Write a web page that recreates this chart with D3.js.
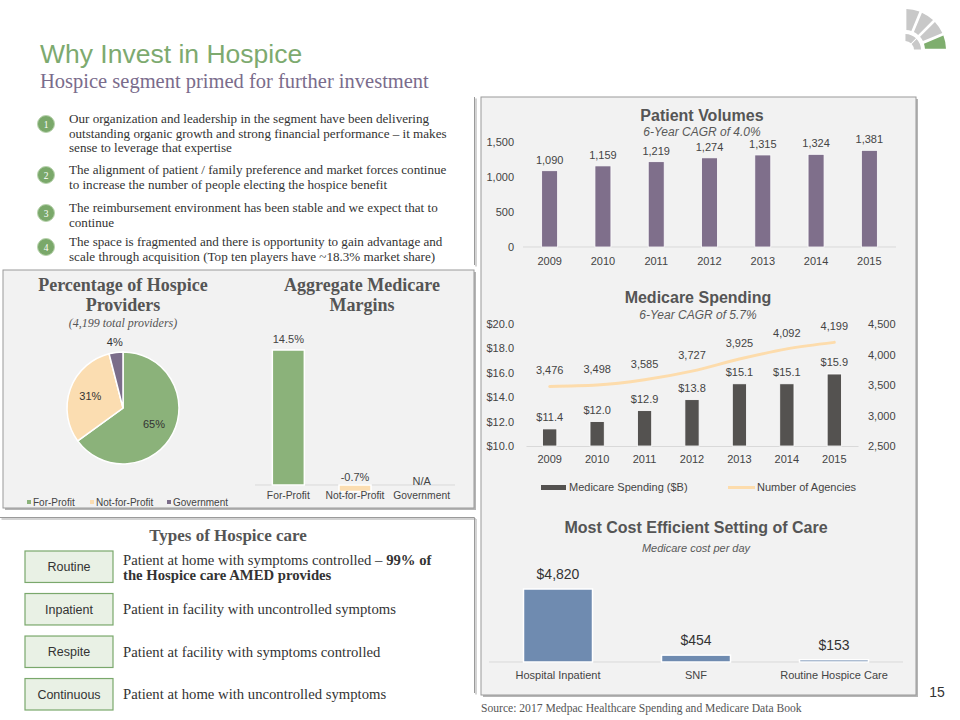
<!DOCTYPE html>
<html>
<head>
<meta charset="utf-8">
<script src="https://cdn.jsdelivr.net/npm/d3@7"></script>
<style>
  body { margin: 0; background: #fff; }
  svg { display: block; }
  .sans { font-family: Arial, "Liberation Sans", sans-serif; }
  .serif { font-family: Georgia, "Liberation Serif", serif; }
</style>
</head>
<body>
<div id="chart"></div>
<script>
// ---- data ----
const years = ["2009", "2010", "2011", "2012", "2013", "2014", "2015"];
const patientVolumes = [1090, 1159, 1219, 1274, 1315, 1324, 1381];
const volumeTicks = [0, 500, 1000, 1500];

const spending = [11.4, 12.0, 12.9, 13.8, 15.1, 15.1, 15.9];
const agencies = [3476, 3498, 3585, 3727, 3925, 4092, 4199];
const spendingTicks = [10, 12, 14, 16, 18, 20];
const agencyTicks = [2500, 3000, 3500, 4000, 4500];

const providerTypes = ["For-Profit", "Not-for-Profit", "Government"];
const providerShares = [65, 31, 4];
const margins = [14.5, -0.7, null];

const costSettings = ["Hospital Inpatient", "SNF", "Routine Hospice Care"];
const costPerDay = [4820, 454, 153];

const bullets = [
  ["Our organization and leadership in the segment have been delivering",
   "outstanding organic growth and strong financial performance \u2013 it makes",
   "sense to leverage that expertise"],
  ["The alignment of patient / family preference and market forces continue",
   "to increase the number of people electing the hospice benefit"],
  ["The reimbursement environment has been stable and we expect that to",
   "continue"],
  ["The space is fragmented and there is opportunity to gain advantage and",
   "scale through acquisition (Top ten players have ~18.3% market share)"]
];
const careTypes = ["Routine", "Inpatient", "Respite", "Continuous"];
const careText = [
  "Patient at home with symptoms controlled \u2013 ",
  "Patient in facility with uncontrolled symptoms",
  "Patient at facility with symptoms controlled",
  "Patient at home with uncontrolled symptoms"
];

const width = 960, height = 720;
const green = "#8bb27a", peach = "#fbddb1", purple = "#7b6d8a";

const svg = d3.select("#chart").append("svg")
  .attr("width", width).attr("height", height);

/* panels */
function panel(x, y, w, h, fill) {
  svg.append("rect").attr("x", x + 2).attr("y", y + 2).attr("width", w).attr("height", h)
    .attr("fill", "#b5b5b5");
  svg.append("rect").attr("x", x).attr("y", y).attr("width", w).attr("height", h)
    .attr("fill", fill).attr("stroke", "#9a9a9a").attr("stroke-width", 1);
}
function edge(x1, y1, x2, y2) {
  svg.append("line").attr("x1", x1 + 1.5).attr("y1", y1 + 1.5).attr("x2", x2 + 1.5).attr("y2", y2 + 1.5)
    .attr("stroke", "#c4c4c4").attr("stroke-width", 1.5);
  svg.append("line").attr("x1", x1).attr("y1", y1).attr("x2", x2).attr("y2", y2)
    .attr("stroke", "#9a9a9a").attr("stroke-width", 1);
}
panel(481, 97, 435, 598, "#f2f2f2");
edge(474.5, 97, 474.5, 265);
panel(3, 270, 471, 238, "#f2f2f2");
edge(0, 517.5, 474.5, 517.5);
edge(474.5, 517.5, 474.5, 693);

/* header */
svg.append("text").attr("class", "sans").attr("x", 40).attr("y", 63)
  .attr("font-size", 26.5).attr("fill", "#7daa6f").text("Why Invest in Hospice");
svg.append("text").attr("class", "serif").attr("x", 40).attr("y", 88)
  .attr("font-size", 20.5).attr("fill", "#7a6c8c").text("Hospice segment primed for further investment");

// logo
const logo = svg.append("g").attr("transform", "translate(905,50)");
const outer = d3.arc().innerRadius(20).outerRadius(41).padAngle(0.06);
[0, 1, 2, 3].forEach(i => {
  logo.append("path")
    .attr("d", outer({startAngle: i * Math.PI / 8, endAngle: (i + 1) * Math.PI / 8}))
    .attr("fill", i === 3 ? "#7fae6e" : "#c8c8c8");
});
const inner = d3.arc().innerRadius(9).outerRadius(16).padAngle(0.05);
[0, 1].forEach(i => {
  logo.append("path")
    .attr("d", inner({startAngle: i * Math.PI / 4, endAngle: (i + 1) * Math.PI / 4}))
    .attr("fill", "#c8c8c8");
});

/* bullets */
const bulletY = [119, 170, 208, 242];
bullets.forEach((lines, i) => {
  const cy = bulletY[i] + 5;
  svg.append("circle").attr("cx", 46).attr("cy", cy).attr("r", 8.5)
    .attr("fill", "#7aa86a").attr("stroke", "#b9d3ae").attr("stroke-width", 1);
  svg.append("text").attr("class", "serif").attr("x", 46).attr("y", cy + 3.5)
    .attr("text-anchor", "middle").attr("font-size", 9.5).attr("fill", "#fff").text(i + 1);
  lines.forEach((t, j) => {
    svg.append("text").attr("class", "serif").attr("x", 69).attr("y", bulletY[i] + 4 + j * 14.5)
      .attr("font-size", 13.1).attr("fill", "#333").text(t);
  });
});

/* pie */
function serifTitle(x, y, t, size) {
  svg.append("text").attr("class", "serif").attr("x", x).attr("y", y)
    .attr("text-anchor", "middle").attr("font-size", size).attr("font-weight", "bold")
    .attr("fill", "#555").text(t);
}
serifTitle(123, 291, "Percentage of Hospice", 18);
serifTitle(123, 311, "Providers", 18);
svg.append("text").attr("class", "serif").attr("x", 123).attr("y", 327)
  .attr("text-anchor", "middle").attr("font-size", 12).attr("font-style", "italic")
  .attr("fill", "#555").text("(4,199 total providers)");

const pieColor = d3.scaleOrdinal().domain(providerTypes).range([green, peach, purple]);
const pie = d3.pie().sort(null).value(d => d.v);
const pieData = pie(providerTypes.map((k, i) => ({k, v: providerShares[i]})));
const r = 56;
const arc = d3.arc().innerRadius(0).outerRadius(r);
const pg = svg.append("g").attr("transform", "translate(123,408)");
pg.selectAll("path").data(pieData).enter().append("path")
  .attr("d", arc).attr("fill", d => pieColor(d.data.k))
  .attr("stroke", "#fff").attr("stroke-width", 1.5);
const labelArc = d3.arc().innerRadius(r * 0.62).outerRadius(r * 0.62);
const outerLabel = d3.arc().innerRadius(r + 10).outerRadius(r + 10);
pg.selectAll("text").data(pieData).enter().append("text")
  .attr("class", "sans")
  .attr("transform", d => "translate(" + (d.data.v < 10 ? outerLabel : labelArc).centroid(d) + ")")
  .attr("text-anchor", "middle").attr("dy", "0.35em")
  .attr("font-size", 11).attr("fill", "#333").text(d => d.data.v + "%");

const legendX = [27, 90, 167];
providerTypes.forEach((k, i) => {
  svg.append("rect").attr("x", legendX[i]).attr("y", 500).attr("width", 4).attr("height", 4)
    .attr("fill", pieColor(k));
  svg.append("text").attr("class", "sans").attr("x", legendX[i] + 6).attr("y", 506)
    .attr("font-size", 10).attr("fill", "#444").text(k);
});

/* aggregate margins */
serifTitle(362, 291, "Aggregate Medicare", 18);
serifTitle(362, 311, "Margins", 18);

const mx = d3.scaleBand().domain(providerTypes).range([255, 455]).paddingInner(0.52).paddingOuter(0.26);
const my = d3.scaleLinear().domain([0, 14.5]).range([485, 350]);
svg.append("line").attr("x1", 255).attr("x2", 455).attr("y1", my(0)).attr("y2", my(0))
  .attr("stroke", "#d9d9d9");
providerTypes.forEach((k, i) => {
  const v = margins[i];
  const cx = mx(k) + mx.bandwidth() / 2;
  if (v !== null) {
    svg.append("rect").attr("x", mx(k)).attr("width", mx.bandwidth())
      .attr("y", my(Math.max(0, v))).attr("height", Math.abs(my(v) - my(0)))
      .attr("fill", pieColor(k)).attr("stroke", "#fff").attr("stroke-width", 1.5);
  }
  const ly = v === null ? 485 : (v >= 0 ? my(v) - 7 : my(0) - 4);
  svg.append("text").attr("class", "sans").attr("x", cx).attr("y", ly)
    .attr("text-anchor", "middle").attr("font-size", 11).attr("fill", "#444")
    .text(v === null ? "N/A" : v.toFixed(1) + "%");
  svg.append("text").attr("class", "sans").attr("x", cx).attr("y", 499)
    .attr("text-anchor", "middle").attr("font-size", 10.3).attr("fill", "#444").text(k);
});

/* types of hospice care */
serifTitle(228, 541, "Types of Hospice care", 17);
const careY = d3.scaleBand().domain(careTypes).range([551, 710]).paddingInner(0.26);
careTypes.forEach((k, i) => {
  const y0 = careY(k);
  svg.append("rect").attr("x", 25).attr("y", y0).attr("width", 88).attr("height", careY.bandwidth())
    .attr("fill", "#e9f1e5").attr("stroke", "#7aa86c").attr("stroke-width", 1.2);
  svg.append("text").attr("class", "sans").attr("x", 69).attr("y", y0 + careY.bandwidth() / 2 + 4.5)
    .attr("text-anchor", "middle").attr("font-size", 12.5).attr("fill", "#333").text(k);
  const t = svg.append("text").attr("class", "serif").attr("x", 123)
    .attr("font-size", 14.7).attr("fill", "#333");
  if (i === 0) {
    t.attr("y", y0 + 14);
    t.append("tspan").text(careText[i]);
    t.append("tspan").attr("font-weight", "bold").text("99% of");
    svg.append("text").attr("class", "serif").attr("x", 123).attr("y", y0 + 29)
      .attr("font-size", 14.7).attr("font-weight", "bold").attr("fill", "#333")
      .text("the Hospice care AMED provides");
  } else {
    t.attr("y", y0 + careY.bandwidth() / 2 + 5).text(careText[i]);
  }
});

/* patient volumes */
function title(x, y, main, sub, subY, subSize) {
  svg.append("text").attr("class", "sans").attr("x", x).attr("y", y)
    .attr("text-anchor", "middle").attr("font-size", 16).attr("font-weight", "bold")
    .attr("fill", "#555").text(main);
  svg.append("text").attr("class", "sans").attr("x", x).attr("y", subY)
    .attr("text-anchor", "middle").attr("font-size", subSize).attr("font-style", "italic")
    .attr("fill", "#595959").text(sub);
}
title(702, 121, "Patient Volumes", "6-Year CAGR of 4.0%", 136, 12);

const vx = d3.scaleBand().domain(years).range([523, 896]).paddingInner(0.7).paddingOuter(0.35);
const vy = d3.scaleLinear().domain([0, 1500]).range([247, 142]);
const vyAxis = svg.append("g").attr("class", "sans").attr("transform", "translate(514,0)")
  .call(d3.axisLeft(vy).tickValues(volumeTicks).tickSize(0).tickPadding(0).tickFormat(d3.format(",")));
vyAxis.select(".domain").remove();
svg.append("line").attr("x1", 523).attr("x2", 896).attr("y1", vy(0)).attr("y2", vy(0)).attr("stroke", "#d9d9d9");
svg.selectAll(".vbar").data(years).enter().append("rect").attr("class", "vbar")
  .attr("x", d => vx(d)).attr("width", vx.bandwidth())
  .attr("y", (d, i) => vy(patientVolumes[i])).attr("height", (d, i) => vy(0) - vy(patientVolumes[i]))
  .attr("fill", "#7f6f8b").attr("stroke", "#fff").attr("stroke-width", 0.8);
svg.selectAll(".vlab").data(years).enter().append("text").attr("class", "vlab sans")
  .attr("x", d => vx(d) + vx.bandwidth() / 2).attr("y", (d, i) => vy(patientVolumes[i]) - 7)
  .attr("text-anchor", "middle").attr("font-size", 11).attr("fill", "#444")
  .text((d, i) => d3.format(",")(patientVolumes[i]));
svg.selectAll(".vyr").data(years).enter().append("text").attr("class", "vyr sans")
  .attr("x", d => vx(d) + vx.bandwidth() / 2).attr("y", 265)
  .attr("text-anchor", "middle").attr("font-size", 11).attr("fill", "#444").text(d => d);

/* medicare spending */
title(698, 303, "Medicare Spending", "6-Year CAGR of 5.7%", 319, 12);
const sx = d3.scaleBand().domain(years).range([526, 858]).paddingInner(0.7).paddingOuter(0.35);
const sy = d3.scaleLinear().domain([10, 20]).range([446, 324]);
const ay = d3.scaleLinear().domain([2500, 4500]).range([446, 324]);
const syAxis = svg.append("g").attr("class", "sans").attr("transform", "translate(514,0)")
  .call(d3.axisLeft(sy).tickValues(spendingTicks).tickSize(0).tickPadding(0).tickFormat(d => "$" + d3.format(".1f")(d)));
syAxis.select(".domain").remove();
const ayAxis = svg.append("g").attr("class", "sans").attr("transform", "translate(868,0)")
  .call(d3.axisRight(ay).tickValues(agencyTicks).tickSize(0).tickPadding(0).tickFormat(d3.format(",")));
ayAxis.select(".domain").remove();
const sxAxis = svg.append("g").attr("class", "sans").attr("transform", "translate(0,446)")
  .call(d3.axisBottom(sx).tickSize(0).tickPadding(9));
sxAxis.select(".domain").attr("stroke", "#d9d9d9");
svg.selectAll(".sbar").data(years).enter().append("rect").attr("class", "sbar")
  .attr("x", d => sx(d)).attr("width", sx.bandwidth())
  .attr("y", (d, i) => sy(spending[i])).attr("height", (d, i) => sy(10) - sy(spending[i]))
  .attr("fill", "#545250").attr("stroke", "#fff").attr("stroke-width", 0.8);
svg.selectAll(".slab").data(years).enter().append("text").attr("class", "slab sans")
  .attr("x", d => sx(d) + sx.bandwidth() / 2).attr("y", (d, i) => sy(spending[i]) - 8)
  .attr("text-anchor", "middle").attr("font-size", 11).attr("fill", "#444")
  .text((d, i) => "$" + d3.format(".1f")(spending[i]));
const line = d3.line().curve(d3.curveMonotoneX)
  .x(d => sx(d.y) + sx.bandwidth() / 2).y(d => ay(d.v));
const lineData = years.map((y, i) => ({y, v: agencies[i]}));
svg.append("path").datum(lineData).attr("d", line)
  .attr("fill", "none").attr("stroke", "#fddcac").attr("stroke-width", 3).attr("stroke-linecap", "round");
svg.selectAll(".alab").data(lineData).enter().append("text").attr("class", "alab sans")
  .attr("x", d => sx(d.y) + sx.bandwidth() / 2).attr("y", d => ay(d.v) - 12)
  .attr("text-anchor", "middle").attr("font-size", 11).attr("fill", "#444")
  .text(d => d3.format(",")(d.v));
svg.append("rect").attr("x", 541).attr("y", 485).attr("width", 25).attr("height", 5).attr("fill", "#545250");
svg.append("text").attr("class", "sans").attr("x", 569).attr("y", 491)
  .attr("font-size", 11).attr("fill", "#444").text("Medicare Spending ($B)");
svg.append("line").attr("x1", 728).attr("x2", 755).attr("y1", 487.5).attr("y2", 487.5)
  .attr("stroke", "#fddcac").attr("stroke-width", 3);
svg.append("text").attr("class", "sans").attr("x", 757).attr("y", 491)
  .attr("font-size", 11).attr("fill", "#444").text("Number of Agencies");

svg.selectAll(".tick text").attr("font-size", 11).attr("fill", "#444")
  .attr("font-family", "Arial, 'Liberation Sans', sans-serif");

/* cost per day */
title(696, 533, "Most Cost Efficient Setting of Care", "Medicare cost per day", 552, 11);
const cx = d3.scaleBand().domain(costSettings).range([489, 903]).paddingInner(0.5).paddingOuter(0.25);
const cy = d3.scaleLinear().domain([0, 4820]).range([662, 589]);
svg.append("line").attr("x1", 489).attr("x2", 903).attr("y1", cy(0)).attr("y2", cy(0)).attr("stroke", "#d9d9d9");
svg.selectAll(".cbar").data(costSettings).enter().append("rect").attr("class", "cbar")
  .attr("x", d => cx(d)).attr("width", cx.bandwidth())
  .attr("y", (d, i) => cy(costPerDay[i])).attr("height", (d, i) => cy(0) - cy(costPerDay[i]))
  .attr("fill", "#6f8bb0").attr("stroke", "#fff").attr("stroke-width", 1.5);
svg.selectAll(".clab").data(costSettings).enter().append("text").attr("class", "clab sans")
  .attr("x", d => cx(d) + cx.bandwidth() / 2).attr("y", (d, i) => cy(costPerDay[i]) - 10)
  .attr("text-anchor", "middle").attr("font-size", 14).attr("fill", "#333")
  .text((d, i) => "$" + d3.format(",")(costPerDay[i]));
svg.selectAll(".ccat").data(costSettings).enter().append("text").attr("class", "ccat sans")
  .attr("x", d => cx(d) + cx.bandwidth() / 2).attr("y", 679)
  .attr("text-anchor", "middle").attr("font-size", 11).attr("fill", "#444").text(d => d);

/* footer */
svg.append("text").attr("class", "serif").attr("x", 481).attr("y", 712)
  .attr("font-size", 11.6).attr("fill", "#555")
  .text("Source: 2017 Medpac Healthcare Spending and Medicare Data Book");
svg.append("text").attr("class", "sans").attr("x", 937).attr("y", 697)
  .attr("text-anchor", "middle").attr("font-size", 14).attr("fill", "#333").text("15");
</script>
</body>
</html>
